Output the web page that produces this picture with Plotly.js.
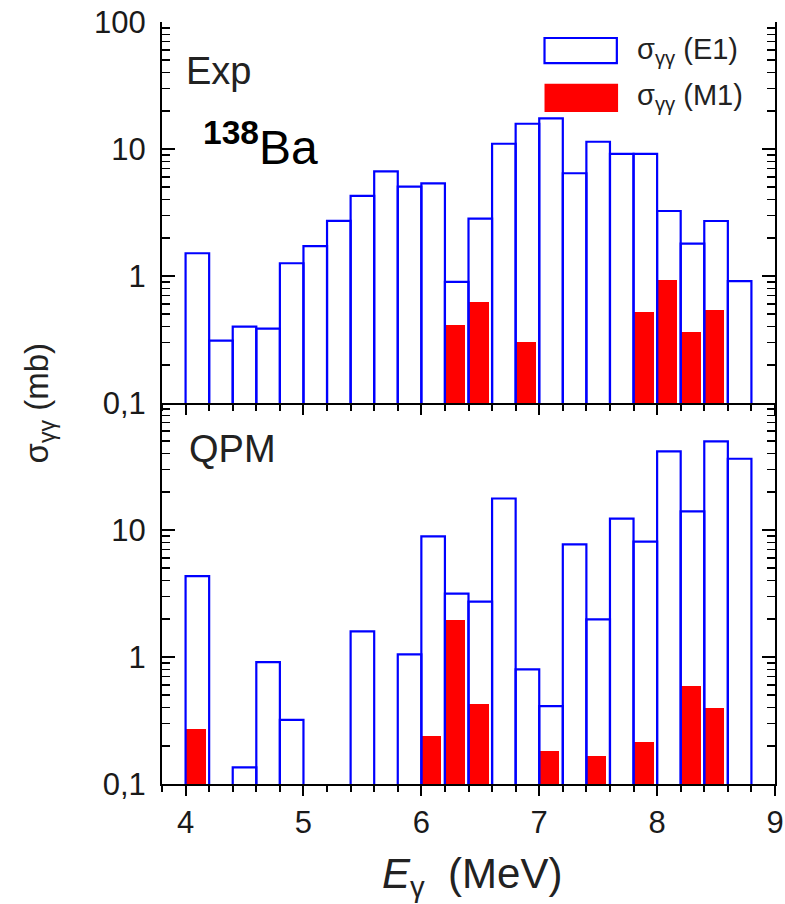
<!DOCTYPE html>
<html>
<head>
<meta charset="utf-8">
<script src="https://cdn.plot.ly/plotly-3.0.1.min.js"></script>
<style>html,body{margin:0;padding:0;background:#fff;}#chart{width:785px;height:904px;}</style>
</head>
<body>
<div id="chart"></div>
<script>
// Bin centres (MeV), bins are 0.2 MeV wide
const energies = [4.1, 4.3, 4.5, 4.7, 4.9, 5.1, 5.3, 5.5, 5.7, 5.9, 6.1, 6.3,
                  6.5, 6.7, 6.9, 7.1, 7.3, 7.5, 7.7, 7.9, 8.1, 8.3, 8.5, 8.7];

// Exp panel
const expE1 = [1.51, 0.31, 0.40, 0.385, 1.26, 1.72, 2.72, 4.27, 6.67, 5.05, 5.37, 0.90,
               2.83, 11.0, 15.8, 17.4, 6.44, 11.4, 9.14, 9.14, 3.25, 1.80, 2.71, 0.91];
const expM1 = [null, null, null, null, null, null, null, null, null, null, null, 0.41,
               0.62, null, 0.30, null, null, null, null, 0.52, 0.93, 0.36, 0.54, null];

// QPM panel
const qpmE1 = [4.33, null, 0.135, 0.91, 0.32, null, null, 1.59, null, 1.05, 8.9, 3.16,
               2.73, 17.7, 0.80, 0.41, 7.7, 1.98, 12.3, 8.09, 41.6, 14.0, 49.9, 36.4];
const qpmM1 = [0.27, null, null, null, null, null, null, null, null, null, 0.237, 1.94,
               0.427, null, null, 0.182, null, 0.166, null, 0.216, null, 0.595, 0.394, null];

const xTicks = [4, 5, 6, 7, 8, 9];
const yTicksTop = [0.1, 1, 10, 100];
const yTextTop = ['0,1', '1', '10', '100'];
const yTicksBot = [0.1, 1, 10];
const yTextBot = ['0,1', '1', '10'];
const yMinor = [0.2,0.3,0.4,0.5,0.6,0.7,0.8,0.9,2,3,4,5,6,7,8,9,20,30,40,50,60,70,80,90];

const BLUE = '#0000ff', RED = '#ff0000';
const FAM = 'Liberation Sans, Arial, sans-serif';

function m1(y, xa, ya) {
  return {type: 'bar', x: energies, y: y, xaxis: xa, yaxis: ya, width: 0.17, offset: -0.1,
          marker: {color: RED, line: {width: 0}}, showlegend: false, hoverinfo: 'skip'};
}
function e1(y, xa, ya) {
  return {type: 'bar', x: energies, y: y, xaxis: xa, yaxis: ya, width: 0.2,
          marker: {color: 'rgba(0,0,0,0)', line: {color: BLUE, width: 2.2}}, showlegend: false, hoverinfo: 'skip'};
}

const data = [
  m1(expM1, 'x2', 'y2'), e1(expE1, 'x2', 'y2'),
  m1(qpmM1, 'x', 'y'), e1(qpmE1, 'x', 'y')
];

const tickFont = {family: FAM, size: 31, color: '#1a1a1a'};

function yAxis(dom, tv, tt) {
  return {domain: dom, type: 'log', range: [-1, 2], tickmode: 'array', tickvals: tv, ticktext: tt,
          ticks: 'inside', ticklen: 13, tickwidth: 2, tickcolor: '#000', showline: true, linecolor: '#000',
          linewidth: 2, mirror: 'ticks', showgrid: false, zeroline: false, tickfont: tickFont,
          ticklabelstandoff: 8,
          minor: {tickmode: 'array', tickvals: yMinor, ticks: 'inside', ticklen: 8, tickwidth: 1.5, tickcolor: '#000', showgrid: false}};
}
function xBase(anchor) {
  return {anchor: anchor, range: [3.8, 9], tickmode: 'array', tickvals: xTicks, ticks: 'outside', ticklen: 10,
          tickwidth: 2, tickcolor: '#000', showline: true, linecolor: '#000', linewidth: 2, showgrid: false,
          zeroline: false, tickfont: tickFont,
          minor: {dtick: 0.2, tick0: 4, ticks: 'outside', ticklen: 6, tickwidth: 2, tickcolor: '#000', showgrid: false}};
}

const xa = xBase('y');
const xa2 = Object.assign(xBase('y2'), {showticklabels: false, matches: 'x'});
const xa3 = Object.assign(xBase('y2'), {overlaying: 'x2', side: 'top', ticks: 'inside', showticklabels: false,
   minor: {dtick: 0.2, tick0: 4, ticks: 'inside', ticklen: 6, tickwidth: 2, tickcolor: '#000', showgrid: false}});

const txtFont = {family: FAM, size: 38, color: '#222'};

const layout = {
  width: 785, height: 904,
  margin: {l: 162, r: 10, t: 22, b: 120, pad: 0},
  paper_bgcolor: '#fff', plot_bgcolor: '#fff',
  barmode: 'overlay', bargap: 0,
  showlegend: false,
  xaxis: xa, xaxis2: xa2, xaxis3: xa3,
  yaxis: yAxis([0, 0.5], yTicksBot, yTextBot),
  yaxis2: yAxis([0.5, 1], yTicksTop, yTextTop),
  shapes: [
    {type: 'rect', xref: 'paper', yref: 'paper', x0: 0.624, x1: 0.742, y0: 0.946, y1: 0.979,
     line: {color: BLUE, width: 2.2}, fillcolor: 'rgba(0,0,0,0)'},
    {type: 'rect', xref: 'paper', yref: 'paper', x0: 0.624, x1: 0.744, y0: 0.882, y1: 0.919,
     line: {width: 0}, fillcolor: RED}
  ],
  annotations: [
    {xref: 'paper', yref: 'paper', x: 0.772, y: 0.962, xanchor: 'left', yanchor: 'middle', showarrow: false,
     text: 'σ<sub>γγ</sub> (E1)', font: {family: FAM, size: 29, color: '#222'}},
    {xref: 'paper', yref: 'paper', x: 0.772, y: 0.901, xanchor: 'left', yanchor: 'middle', showarrow: false,
     text: 'σ<sub>γγ</sub> (M1)', font: {family: FAM, size: 29, color: '#222'}},
    {xref: 'paper', yref: 'paper', x: 0.036, y: 0.936, xanchor: 'left', yanchor: 'middle', showarrow: false,
     text: 'Exp', font: txtFont},
    {xref: 'paper', yref: 'paper', x: 0.064, y: 0.84, xanchor: 'left', yanchor: 'middle', showarrow: false,
     text: '<b><sup>138</sup></b>Ba', font: {family: FAM, size: 48, color: '#000'}},
    {xref: 'paper', yref: 'paper', x: 0.04, y: 0.44, xanchor: 'left', yanchor: 'middle', showarrow: false,
     text: 'QPM', font: txtFont},
    {xref: 'paper', yref: 'paper', x: -0.2, y: 0.5, xanchor: 'center', yanchor: 'middle', showarrow: false,
     textangle: -90, text: 'σ<sub>γγ</sub> (mb)', font: {family: FAM, size: 33, color: '#222'}},
    {xref: 'paper', yref: 'paper', x: 0.505, y: -0.122, xanchor: 'center', yanchor: 'middle', showarrow: false,
     text: '<i>E</i><sub>γ</sub>  (MeV)', font: {family: FAM, size: 42, color: '#222'}}
  ]
};

Plotly.newPlot('chart', data, layout, {staticPlot: true, displayModeBar: false});
</script>
</body>
</html>
